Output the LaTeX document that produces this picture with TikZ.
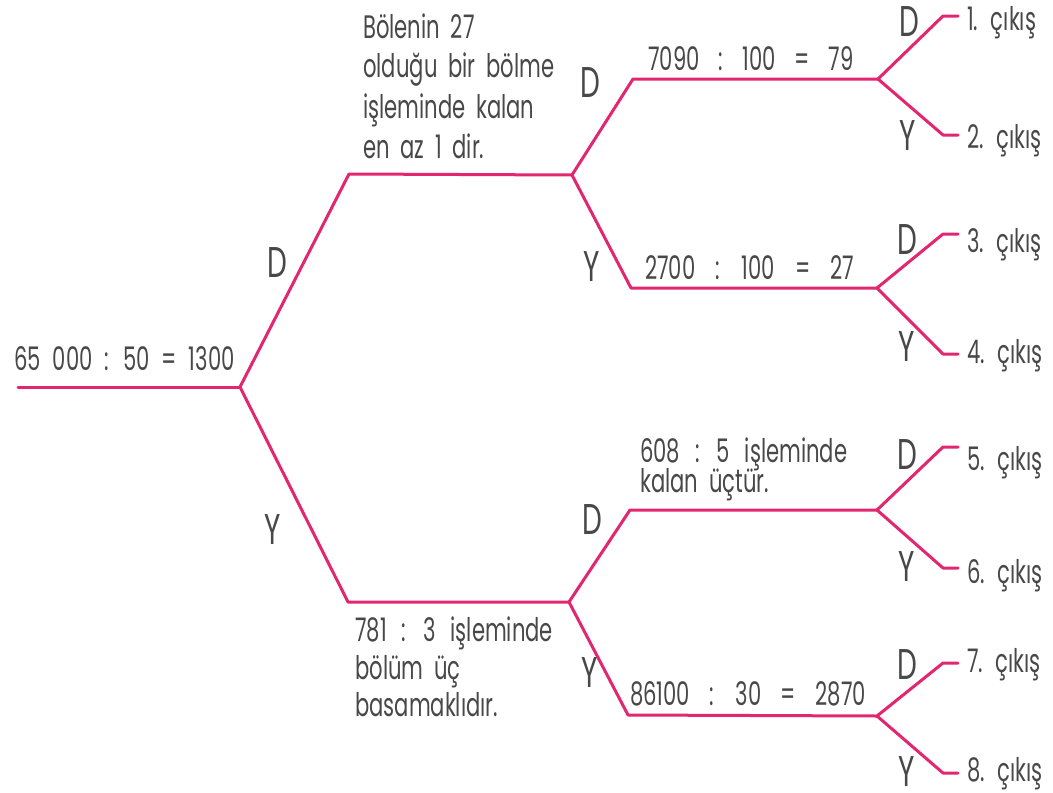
\documentclass[tikz,border=0pt]{standalone}
\usepackage{fontspec}
\setmainfont{Poppins}[FakeStretch=0.65,WordSpace=1.9]
\definecolor{pinkline}{RGB}{226,38,112}
\definecolor{txt}{RGB}{72,72,72}
\begin{document}
\begin{tikzpicture}[x=1pt,y=-1pt,
  br/.style={draw=pinkline,line width=3pt,line join=round,line cap=round},
  lbl/.style={text=txt,inner sep=0pt,anchor=base west,font=\fontsize{32.5}{36}\selectfont},
  wsp/.style={execute at begin node={\spaceskip=#1\relax}},
  dy/.style={text=txt,inner sep=0pt,anchor=center,font=\fontsize{43}{46}\selectfont}]
\useasboundingbox (0,0) rectangle (1053,793);
\fill[white] (0,0) rectangle (1053,793);
% coordinates
\coordinate (r0) at (18,387);
\coordinate (r) at (240,387);
\coordinate (a1) at (349,174);
\coordinate (a) at (572,175);
\coordinate (b1) at (348,602);
\coordinate (b) at (569,602);
\coordinate (aa1) at (633,79);
\coordinate (aa) at (878,79);
\coordinate (ab1) at (631,288);
\coordinate (ab) at (877,288);
\coordinate (ba1) at (630,510);
\coordinate (ba) at (877,510);
\coordinate (bb1) at (628,715);
\coordinate (bb) at (877,716);
% leaves
\coordinate (l1a) at (943,16);  \coordinate (l1) at (958,16);
\coordinate (l2a) at (943,135); \coordinate (l2) at (958,135);
\coordinate (l3a) at (943,234); \coordinate (l3) at (958,234);
\coordinate (l4a) at (943,354); \coordinate (l4) at (958,354);
\coordinate (l5a) at (943,447); \coordinate (l5) at (958,447);
\coordinate (l6a) at (943,568); \coordinate (l6) at (958,568);
\coordinate (l7a) at (943,663); \coordinate (l7) at (958,663);
\coordinate (l8a) at (943,773); \coordinate (l8) at (958,773);
% branches
\draw[br] (r0) -- (r);
\draw[br] (r) -- (a1) -- (a);
\draw[br] (r) -- (b1) -- (b);
\draw[br] (a) -- (aa1) -- (aa);
\draw[br] (a) -- (ab1) -- (ab);
\draw[br] (b) -- (ba1) -- (ba);
\draw[br] (b) -- (bb1) -- (bb);
\draw[br] (aa) -- (l1a) -- (l1);
\draw[br] (aa) -- (l2a) -- (l2);
\draw[br] (ab) -- (l3a) -- (l3);
\draw[br] (ab) -- (l4a) -- (l4);
\draw[br] (ba) -- (l5a) -- (l5);
\draw[br] (ba) -- (l6a) -- (l6);
\draw[br] (bb) -- (l7a) -- (l7);
\draw[br] (bb) -- (l8a) -- (l8);
% texts
\node[lbl,wsp=12pt] (t0) at (14,370) {65 000 : 50 = 1300};
\node[lbl] (ta1) at (363,38) {Bölenin 27};
\node[lbl] (ta2) at (363,77) {olduğu bir bölme};
\node[lbl] (ta3) at (363,118) {işleminde kalan};
\node[lbl] (ta4) at (363,158) {en az 1 dir.};
\node[lbl,wsp=15pt] (tb1) at (355,641) {781 : 3 işleminde};
\node[lbl] (tb2) at (355,679) {bölüm üç};
\node[lbl] (tb3) at (355,716) {basamaklıdır.};
\node[lbl,wsp=18.5pt] (taa) at (648,70) {7090 : 100 = 79};
\node[lbl,wsp=20pt] (tab) at (645,279) {2700 : 100 = 27};
\node[lbl,wsp=15pt] (tba1) at (640,462) {608 : 5 işleminde};
\node[lbl] (tba2) at (640,492) {kalan üçtür.};
\node[lbl,wsp=19.5pt] (tbb) at (630,705) {86100 : 30 = 2870};
% outputs
\node[lbl] (o1) at (967,30) {1. çıkış};
\node[lbl] (o2) at (967,148) {2. çıkış};
\node[lbl] (o3) at (967,252) {3. çıkış};
\node[lbl] (o4) at (967,363) {4. çıkış};
\node[lbl] (o5) at (967,470) {5. çıkış};
\node[lbl] (o6) at (967,583) {6. çıkış};
\node[lbl] (o7) at (967,672) {7. çıkış};
\node[lbl] (o8) at (967,781) {8. çıkış};
% D / Y labels
\node[dy] (d0) at (277,263) {D};
\node[dy] (y0) at (273,530) {Y};
\node[dy] (d1) at (590,83) {D};
\node[dy] (y1) at (592,267) {Y};
\node[dy] (d2) at (592,520) {D};
\node[dy] (y2) at (590,673) {Y};
\node[dy] (d3) at (909,22) {D};
\node[dy] (y3) at (908,136) {Y};
\node[dy] (d4) at (907,240) {D};
\node[dy] (y4) at (907,347) {Y};
\node[dy] (d5) at (907,455) {D};
\node[dy] (y5) at (907,567) {Y};
\node[dy] (d6) at (907,665) {D};
\node[dy] (y6) at (907,772) {Y};
\end{tikzpicture}
\end{document}
